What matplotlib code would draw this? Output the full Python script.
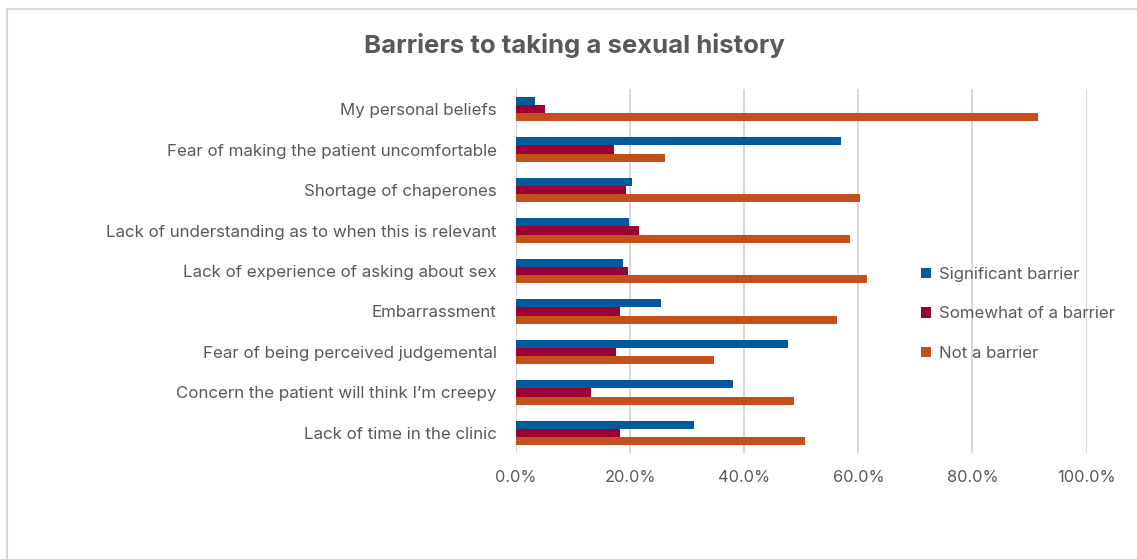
import numpy as np
import matplotlib.pyplot as plt
from matplotlib.patches import Rectangle

categories = [
    "My personal beliefs",
    "Fear of making the patient uncomfortable",
    "Shortage of chaperones",
    "Lack of understanding as to when this is relevant",
    "Lack of experience of asking about sex",
    "Embarrassment",
    "Fear of being perceived judgemental",
    "Concern the patient will think I\u2019m creepy",
    "Lack of time in the clinic",
]
significant = [3.3, 56.9, 20.4, 19.8, 18.8, 25.5, 47.7, 38.0, 31.2]
somewhat = [5.1, 17.1, 19.3, 21.6, 19.7, 18.2, 17.6, 13.1, 18.2]
not_barrier = [91.5, 26.1, 60.2, 58.5, 61.5, 56.3, 34.7, 48.8, 50.6]

series = ["Significant barrier", "Somewhat of a barrier", "Not a barrier"]
colors = ["#005A9C", "#990033", "#C4501A"]
gray = "#595959"

plt.rcParams["font.family"] = ["Inter", "DejaVu Sans"]

fig = plt.figure(figsize=(11.37, 5.59), dpi=100)
ax = fig.add_axes([0.4538, 0.1892, 0.5019, 0.652])

# chart frame
fig.patches.append(Rectangle((7 / 1137, -0.1), 1.2, 1 - 9 / 559 + 0.1,
                             transform=fig.transFigure, fill=False,
                             edgecolor="#d9d9d9", lw=1.5))

y = np.arange(len(categories))
h = 0.205
for k, (vals, name, c) in enumerate(zip([significant, somewhat, not_barrier], series, colors)):
    ax.barh(y + (k - 1) * h, vals, height=h, color=c, label=name, zorder=3)

ax.set_ylim(len(categories) - 0.5, -0.5)
ax.set_xlim(0, 100)
ax.set_xticks(np.arange(0, 101, 20))
ax.set_xticklabels([f"{v:.1f}%" for v in np.arange(0, 101, 20)])
ax.set_yticks(y)
ax.set_yticklabels(categories)
ax.tick_params(axis="y", length=0, labelsize=12.2, colors=gray, pad=14)
ax.tick_params(axis="x", length=0, labelsize=11.8, colors=gray, pad=12)
ax.grid(axis="x", color="#d9d9d9", lw=1.5, zorder=0)
ax.set_axisbelow(True)
for s in ax.spines.values():
    s.set_visible(False)

fig.text(574 / 1137, 1 - 45 / 559, "Barriers to taking a sexual history",
         ha="center", va="center", fontsize=18.5, fontweight="bold", color=gray)

leg = ax.legend(loc="center left", bbox_to_anchor=(913 / 1137, 1 - 314 / 559),
                bbox_transform=fig.transFigure, frameon=False, fontsize=12.1,
                handlelength=0.55, handleheight=0.55, handletextpad=0.5,
                labelspacing=1.45, borderpad=0)
for t in leg.get_texts():
    t.set_color(gray)

fig.savefig("out.png", dpi=100)
